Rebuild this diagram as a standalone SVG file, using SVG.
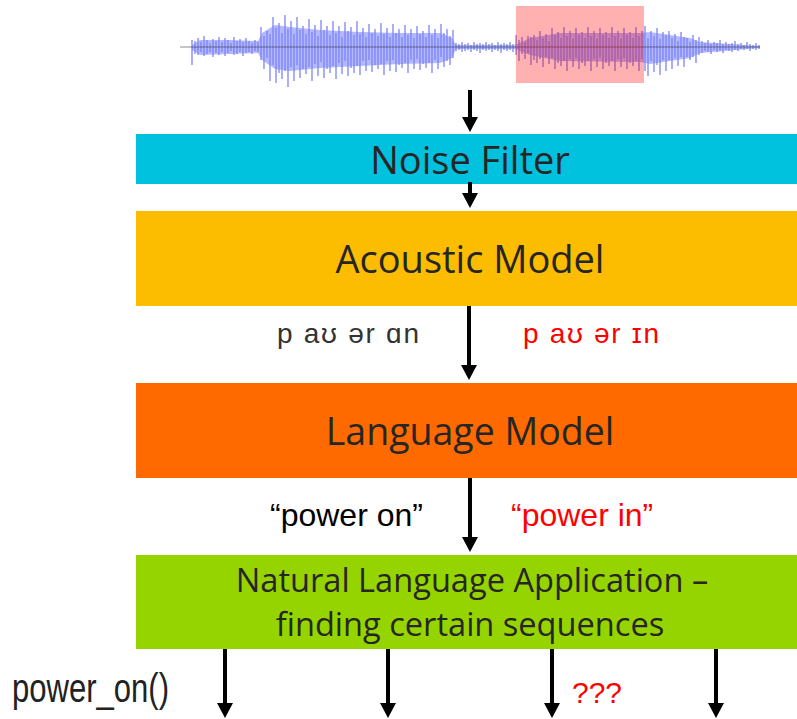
<svg xmlns="http://www.w3.org/2000/svg" width="797" height="719" viewBox="0 0 797 719">
<defs>
<style>
.title{font-family:"Open Sans","Noto Sans",sans-serif;fill:#262626;text-anchor:middle}
.lbl{font-family:"Liberation Sans",Arial,sans-serif}
.ipa{font-family:"Liberation Sans","DejaVu Sans",sans-serif;font-size:28px}
.blk{fill:#333333}
.red{fill:#FF0000}
.conn line{stroke:#000;stroke-width:4;marker-end:url(#ah)}
</style>
<marker id="ah" viewBox="0 0 15 16" refX="5" refY="8" markerWidth="15" markerHeight="16" markerUnits="userSpaceOnUse" orient="auto">
<path d="M0,0 L15,8 L0,16 z" fill="#000"/>
</marker>
</defs>
<rect width="797" height="719" fill="#fff"/>

<g id="waveform">
<polygon fill="#B3B8FF" points="192,45 200,40 230,40 258,41 262,33 275,25 290,27 320,30 360,32 400,33 440,33 452,38 456,45 515,45 530,38 560,33 640,33 650,32 690,38 700,42 760,46 760,48 700,53 690,58 650,64 640,62 560,61 530,55 515,49 456,49 452,58 440,63 400,64 360,66 320,68 290,71 275,69 262,60 258,53 230,54 200,55 192,50"/>
<path fill="none" stroke="#7C84F4" stroke-width="1.3" d="M192,40V65 M195,41V54 M198,38V55 M201,42V52 M204,36V56 M207,40V54 M210,43V52 M213,39V57 M216,41V53 M219,37V55 M222,42V52 M225,38V56 M228,40V53 M231,43V51 M234,37V55 M237,41V54 M240,39V52 M243,42V56 M246,38V53 M249,41V52 M252,43V54 M255,40V51 M258,42V52
M261,27V60 M264,36V69 M267,31V58 M270,34V81 M273,17V65 M276,28V83 M279,23V73 M282,33V79 M285,15V71 M288,29V87 M291,21V67 M294,34V81 M297,17V65 M300,30V78 M303,26V69 M306,34V74 M309,19V67 M312,32V81 M315,25V64 M318,36V76 M321,20V62 M324,30V78 M327,26V69 M330,35V73 M333,21V66 M336,33V79 M339,26V63 M342,37V74 M345,22V61 M348,31V76 M351,27V68 M354,35V73 M357,21V66 M360,34V75 M363,28V61 M366,37V71 M369,24V60 M372,33V72 M375,29V65 M378,36V69 M381,23V64 M384,34V75 M387,28V61 M390,37V71 M393,24V60 M396,33V72 M399,29V65 M402,37V68 M405,25V63 M408,35V73 M411,29V60 M414,38V69 M417,26V59 M420,34V70 M423,31V64 M426,37V68 M429,25V63 M432,35V73 M435,29V60 M438,38V69 M441,24V57 M444,33V67 M447,29V61 M450,36V65 M453,30V58
M456,43V51 M459,44V50 M462,42V52 M465,44V51 M468,43V50 M471,45V52 M474,42V50 M477,44V51 M480,43V53 M483,44V50 M486,42V51 M489,44V50 M492,43V52 M495,45V50 M498,42V51 M501,44V53 M504,43V50 M507,44V51 M510,42V50 M513,44V52
M516,35V55 M519,40V61 M522,37V54 M525,42V59 M528,36V53 M531,37V65 M534,35V60 M537,40V63 M540,31V59 M543,38V67 M546,34V57 M549,41V64 M552,28V58 M555,35V69 M558,32V63 M561,38V66 M564,27V61 M567,36V71 M570,31V59 M573,39V67 M576,28V58 M579,35V69 M582,32V63 M585,38V66 M588,27V61 M591,36V71 M594,31V59 M597,39V67 M600,28V58 M603,35V69 M606,32V63 M609,38V66 M612,27V61 M615,36V71 M618,31V59 M621,39V67 M624,28V58 M627,35V69 M630,32V63 M633,38V66 M636,27V61 M639,36V71 M642,31V59
M645,26V71 M648,38V76 M651,31V61 M654,36V72 M657,28V65 M660,39V75 M663,32V60 M666,35V71 M669,31V60 M672,38V69 M675,34V58 M678,41V66 M681,32V57 M684,37V67 M687,38V57 M690,42V60 M693,35V57 M696,40V63 M699,37V55
M702,41V53 M705,43V51 M708,40V52 M711,44V54 M714,42V50 M717,43V52 M720,40V51 M723,44V53 M726,42V50 M729,44V51 M732,43V52 M735,41V50 M738,44V51 M741,43V49 M744,45V50 M747,42V49 M750,44V51 M753,45V49 M756,43V50 M759,45V49"/>
<line x1="180" y1="47" x2="760" y2="47" stroke="#333" stroke-width="0.8" opacity="0.7"/>
<rect x="516" y="6" width="128" height="77" fill="#FF0000" fill-opacity="0.31"/>
</g>

<g id="noise-filter">
<rect x="136" y="134" width="668" height="50" fill="#00C1DE"/>
<text class="title" x="470" y="174" font-size="38">Noise Filter</text>
</g>

<g id="acoustic-model">
<rect x="136" y="211" width="668" height="95" fill="#FCBC00"/>
<text class="title" x="470" y="273" font-size="38">Acoustic Model</text>
</g>

<g id="language-model">
<rect x="136" y="383" width="668" height="95" fill="#FF6A00"/>
<text class="title" x="470" y="445" font-size="37.5">Language Model</text>
</g>

<g id="nla">
<rect x="136" y="555" width="668" height="94" fill="#96D400"/>
<text class="title" x="472" y="592" font-size="32.6">Natural Language Application –</text>
<text class="title" x="470" y="636" font-size="32.6">finding certain sequences</text>
</g>

<g id="connectors" class="conn">
<line x1="470" y1="90" x2="470" y2="122"/>
<line x1="470" y1="182" x2="470" y2="198"/>
<line x1="469" y1="306" x2="469" y2="370"/>
<line x1="470" y1="478" x2="470" y2="542"/>
<line x1="225" y1="649" x2="225" y2="708"/>
<line x1="388" y1="649" x2="388" y2="708"/>
<line x1="552" y1="649" x2="552" y2="708"/>
<line x1="716" y1="649" x2="716" y2="708"/>
</g>

<g id="labels">
<text class="ipa blk" x="277" y="343" textLength="142" lengthAdjust="spacing">p aʊ ər ɑn</text>
<text class="ipa red" x="523" y="343" textLength="136" lengthAdjust="spacing">p aʊ ər ɪn</text>
<text class="lbl" x="270" y="526" font-size="32" fill="#000">“power on”</text>
<text class="lbl red" x="511" y="526" font-size="32">“power in”</text>
<text class="lbl" x="12" y="702" font-size="40" fill="#222" textLength="157" lengthAdjust="spacingAndGlyphs">power_on()</text>
<text class="lbl red" x="572" y="703" font-size="30">???</text>
</g>
</svg>
